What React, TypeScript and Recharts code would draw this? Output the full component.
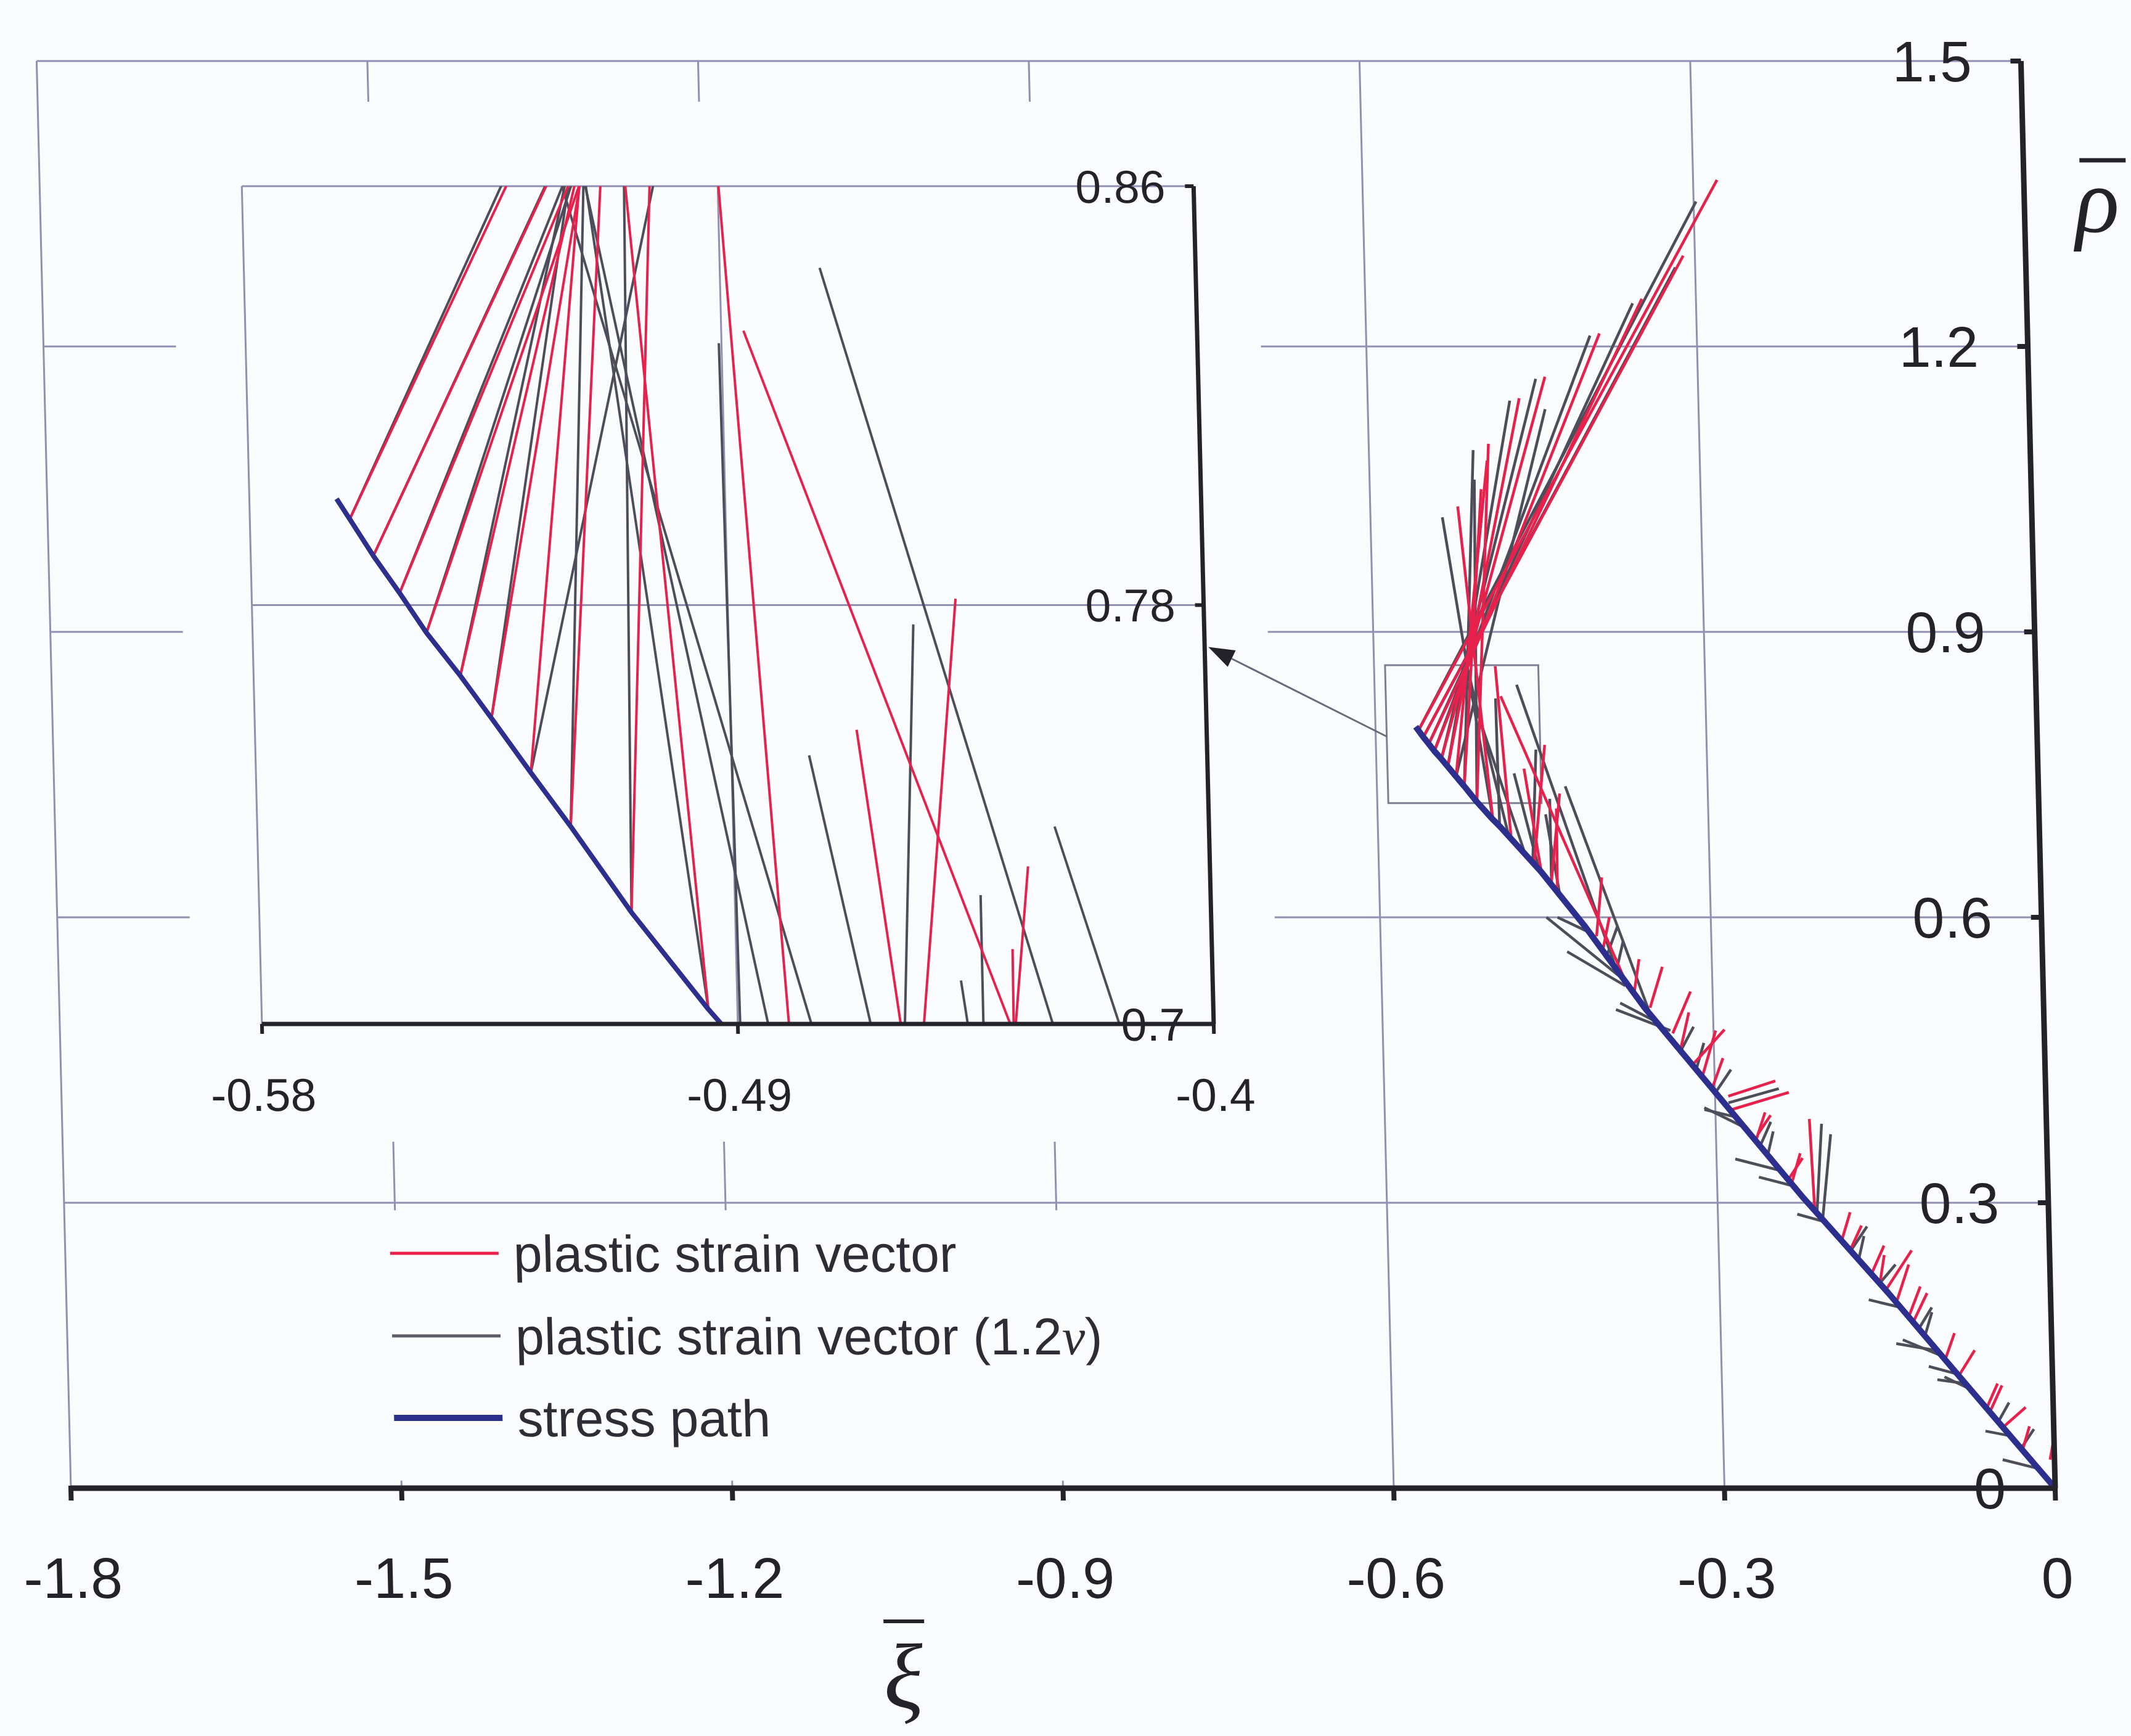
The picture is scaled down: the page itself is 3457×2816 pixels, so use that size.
import React from "react";
import { ComposedChart, Line, XAxis, YAxis, CartesianGrid, ReferenceArea } from "recharts";

const RED = "#e8214c";
const DARK = "#4e4d5a";
const BLUE = "#2c2f8e";
const GRID = "#9290b2";
const INK = "#25232a";
const PAPER = "#fbfcfe";
const SANS = "Liberation Sans, Arial, Helvetica, sans-serif";
const SERIF = "Liberation Serif, DejaVu Serif, serif";

const W = 3457;
const H = 2816;
// the scan leans a little, so the whole figure is sheared
const SKEW = 1.375;

// main plot box (px)
const MAIN_LEFT = 115;
const MAIN_RIGHT = 3334;
const MAIN_TOP = 99;
const MAIN_BOTTOM = 2414;

// inset box (px)
const INSET_LEFT = 330;
const INSET_TOP = 165;
const INSET_W = 1760;
const INSET_H = 1687;
const INSET_PLOT_LEFT = 443;
const INSET_PLOT_RIGHT = 1987;
const INSET_PLOT_TOP = 302;
const INSET_PLOT_BOTTOM = 1661;

const mainXTicks = [-1.8, -1.5, -1.2, -0.9, -0.6, -0.3, 0];
const mainYTicks = [0, 0.3, 0.6, 0.9, 1.2, 1.5];
const insetXTicks = [-0.58, -0.49, -0.4];
const insetYTicks = [0.7, 0.78, 0.86];

// stress path
const pathXi = [0, -0.072, -0.147, -0.222, -0.292, -0.362, -0.414, -0.453, -0.4895, -0.4955, -0.5096, -0.5207, -0.528, -0.5352, -0.5409, -0.5471, -0.552, -0.5568, -0.5611, -0.5635];
const pathRho = [0, 0.1, 0.205, 0.305, 0.405, 0.505, 0.59, 0.648, 0.6957, 0.7028, 0.7213, 0.7377, 0.748, 0.7584, 0.7665, 0.7747, 0.7823, 0.7894, 0.7964, 0.8003];

// plastic strain vector: [xi0, rho0, xi1, rho1]
const strainVec = [
  [-0.5611, 0.7964, -0.2783, 1.375],
  [-0.5568, 0.7894, -0.3106, 1.2954],
  [-0.552, 0.7823, -0.3491, 1.25],
  [-0.5471, 0.7747, -0.3883, 1.2137],
  [-0.5409, 0.7665, -0.4387, 1.1681],
  [-0.5352, 0.7584, -0.4625, 1.1456],
  [-0.528, 0.748, -0.493, 1.08],
  [-0.5207, 0.7377, -0.499, 1.05],
  [-0.5096, 0.7213, -0.4914, 1.0977],
  [-0.4955, 0.7028, -0.5206, 1.0319],
  [-0.4791, 0.6794, -0.4901, 0.8639],
  [-0.3784, 0.5319, -0.4858, 0.8324],
  [-0.4522, 0.644, -0.4662, 0.7562],
  [-0.4593, 0.6536, -0.4469, 0.7812],
  [-0.4442, 0.6328, -0.4344, 0.7301],
  [-0.4385, 0.6246, -0.4377, 0.7143],
  [-0.404, 0.58, -0.398, 0.642],
  [-0.3987, 0.565, -0.392, 0.6],
  [-0.357, 0.505, -0.345, 0.548],
  [-0.3712, 0.52, -0.366, 0.556],
  [-0.337, 0.478, -0.32, 0.522],
  [-0.3305, 0.46, -0.322, 0.5],
  [-0.318, 0.447, -0.29, 0.482],
  [-0.311, 0.433, -0.298, 0.481],
  [-0.3025, 0.42, -0.292, 0.452],
  [-0.288, 0.412, -0.245, 0.428],
  [-0.285, 0.398, -0.233, 0.416],
  [-0.264, 0.365, -0.255, 0.395],
  [-0.262, 0.372, -0.25, 0.392],
  [-0.235, 0.325, -0.222, 0.347],
  [-0.2325, 0.32, -0.224, 0.352],
  [-0.212, 0.292, -0.215, 0.388],
  [-0.1883, 0.26, -0.18, 0.29],
  [-0.18, 0.252, -0.17, 0.276],
  [-0.162, 0.225, -0.15, 0.255],
  [-0.155, 0.212, -0.15, 0.245],
  [-0.15, 0.207, -0.125, 0.25],
  [-0.14, 0.195, -0.128, 0.235],
  [-0.1291, 0.18, -0.118, 0.212],
  [-0.125, 0.175, -0.112, 0.205],
  [-0.097, 0.135, -0.088, 0.163],
  [-0.085, 0.118, -0.07, 0.145],
  [-0.06, 0.085, -0.05, 0.11],
  [-0.0576, 0.08, -0.046, 0.108],
  [-0.045, 0.065, -0.025, 0.085],
  [-0.0288, 0.04, -0.022, 0.065],
  [-0.004, 0.03, 0.003, 0.07],
];

// plastic strain vector (1.2 nu)
const strainVec12 = [
  [-0.5611, 0.7964, -0.2978, 1.3523],
  [-0.5568, 0.7894, -0.318, 1.283],
  [-0.552, 0.7823, -0.3575, 1.2454],
  [-0.5471, 0.7747, -0.3969, 1.2114],
  [-0.5409, 0.7665, -0.4471, 1.166],
  [-0.5352, 0.7584, -0.4711, 1.1431],
  [-0.528, 0.748, -0.4392, 1.1341],
  [-0.5207, 0.7377, -0.5054, 1.091],
  [-0.5096, 0.7213, -0.505, 1.06],
  [-0.4955, 0.7028, -0.5348, 1.0204],
  [-0.4807, 0.6815, -0.5158, 0.8639],
  [-0.4658, 0.6621, -0.5205, 0.8639],
  [-0.4895, 0.693, -0.4905, 0.83],
  [-0.387, 0.5459, -0.4711, 0.8444],
  [-0.454, 0.6466, -0.4753, 0.7513],
  [-0.4604, 0.655, -0.455, 0.7763],
  [-0.3569, 0.4978, -0.4292, 0.7377],
  [-0.4361, 0.6212, -0.4476, 0.7083],
  [-0.4437, 0.632, -0.4435, 0.7246],
  [-0.382, 0.536, -0.449, 0.6],
  [-0.379, 0.528, -0.431, 0.564],
  [-0.412, 0.585, -0.439, 0.6],
  [-0.395, 0.56, -0.385, 0.59],
  [-0.3865, 0.545, -0.38, 0.575],
  [-0.3515, 0.49, -0.384, 0.51],
  [-0.339, 0.481, -0.388, 0.503],
  [-0.33, 0.46, -0.318, 0.485],
  [-0.3165, 0.44, -0.309, 0.468],
  [-0.3, 0.415, -0.285, 0.44],
  [-0.288, 0.405, -0.242, 0.42],
  [-0.2815, 0.39, -0.31, 0.398],
  [-0.272, 0.378, -0.31, 0.4],
  [-0.26, 0.36, -0.25, 0.385],
  [-0.2535, 0.35, -0.248, 0.375],
  [-0.243, 0.334, -0.283, 0.346],
  [-0.232, 0.318, -0.262, 0.327],
  [-0.21, 0.29, -0.204, 0.383],
  [-0.205, 0.283, -0.196, 0.372],
  [-0.2033, 0.28, -0.228, 0.288],
  [-0.18, 0.25, -0.165, 0.275],
  [-0.1733, 0.24, -0.168, 0.265],
  [-0.155, 0.215, -0.14, 0.235],
  [-0.1363, 0.19, -0.165, 0.198],
  [-0.12, 0.168, -0.108, 0.19],
  [-0.1148, 0.16, -0.108, 0.185],
  [-0.106, 0.145, -0.141, 0.152],
  [-0.1, 0.139, -0.135, 0.156],
  [-0.0863, 0.12, -0.112, 0.128],
  [-0.079, 0.11, -0.1045, 0.114],
  [-0.073, 0.103, -0.098, 0.117],
  [-0.05, 0.07, -0.04, 0.09],
  [-0.0396, 0.055, -0.062, 0.06],
  [-0.03, 0.042, -0.018, 0.062],
  [-0.016, 0.021, -0.047, 0.03],
];

const stressPath = pathXi.map((x, i) => ({ x, y: pathRho[i] }));
const seg = (v: number[]) => [
  { x: v[0], y: v[1] },
  { x: v[2], y: v[3] },
];

function series(vecWidth: number, pathWidth: number) {
  const out: React.ReactNode[] = [];
  strainVec12.forEach((v, i) =>
    out.push(
      <Line key={"d" + i} data={seg(v)} dataKey="y" type="linear" stroke={DARK} strokeWidth={vecWidth}
        dot={false} activeDot={false} legendType="none" isAnimationActive={false} />
    )
  );
  strainVec.forEach((v, i) =>
    out.push(
      <Line key={"r" + i} data={seg(v)} dataKey="y" type="linear" stroke={RED} strokeWidth={vecWidth}
        dot={false} activeDot={false} legendType="none" isAnimationActive={false} />
    )
  );
  out.push(
    <Line key="path" data={stressPath} dataKey="y" type="linear" stroke={BLUE} strokeWidth={pathWidth}
      strokeLinejoin="round" dot={false} activeDot={false} legendType="none" isAnimationActive={false} />
  );
  return out;
}

function MainXTick({ x, y, payload }: any) {
  return (
    <g>
      <line x1={x} x2={x} y1={y - 4} y2={y + 20} stroke={INK} strokeWidth={8} />
      <text x={x} y={y + 178} textAnchor="middle" fontSize={93} fill={INK} fontFamily={SANS}>
        {String(payload.value)}
      </text>
    </g>
  );
}

function MainYTick({ x, y, payload }: any) {
  return (
    <g>
      <line x1={x - 17} x2={x} y1={y} y2={y} stroke={INK} strokeWidth={8} />
      <text x={x - 80} y={y} dy="0.36em" textAnchor="end" fontSize={93} fill={INK} fontFamily={SANS}>
        {String(payload.value)}
      </text>
    </g>
  );
}

function InsetXTick({ x, y, payload }: any) {
  return (
    <g>
      <line x1={x} x2={x} y1={y} y2={y + 16} stroke={INK} strokeWidth={6} />
      <text x={x} y={y + 141} textAnchor="middle" fontSize={75} fill={INK} fontFamily={SANS}>
        {String(payload.value)}
      </text>
    </g>
  );
}

function InsetYTick({ x, y, payload }: any) {
  return (
    <g>
      <line x1={x - 14} x2={x} y1={y} y2={y} stroke={INK} strokeWidth={6} />
      <text x={x - 46} y={y} dy="0.36em" textAnchor="end" fontSize={75} fill={INK} fontFamily={SANS}>
        {String(payload.value)}
      </text>
    </g>
  );
}

function MainChart() {
  return (
    <ComposedChart width={W} height={H}
      margin={{ top: MAIN_TOP, left: MAIN_LEFT, right: W - MAIN_RIGHT - 2, bottom: H - MAIN_BOTTOM - 2 }}>
      <CartesianGrid stroke={GRID} strokeWidth={3} />
      <XAxis type="number" dataKey="x" domain={[-1.8, 0]} ticks={mainXTicks} allowDataOverflow
        height={2} tickSize={0} tickMargin={0} tickLine={false} interval={0}
        axisLine={{ stroke: INK, strokeWidth: 9 }} tick={<MainXTick />} />
      <YAxis type="number" dataKey="y" orientation="right" domain={[0, 1.5]} ticks={mainYTicks} allowDataOverflow
        width={2} tickSize={0} tickMargin={0} tickLine={false} interval={0}
        axisLine={{ stroke: INK, strokeWidth: 9 }} tick={<MainYTick />} />
      <ReferenceArea x1={-1.77} x2={-0.72} y1={0.008} y2={0.292} fill={PAPER} fillOpacity={1} stroke="none" />
      <ReferenceArea x1={-0.59} x2={-0.451} y1={0.72} y2={0.865} fill="none" stroke="#7f7e92" strokeWidth={3} />
      {series(4.5, 10)}
    </ComposedChart>
  );
}

function InsetChart() {
  return (
    <ComposedChart width={INSET_W} height={INSET_H}
      margin={{
        top: INSET_PLOT_TOP - INSET_TOP,
        left: INSET_PLOT_LEFT - INSET_LEFT,
        right: INSET_LEFT + INSET_W - INSET_PLOT_RIGHT - 2,
        bottom: INSET_TOP + INSET_H - INSET_PLOT_BOTTOM - 2,
      }}>
      <CartesianGrid stroke={GRID} strokeWidth={3} />
      <XAxis type="number" dataKey="x" domain={[-0.58, -0.4]} ticks={insetXTicks} allowDataOverflow
        height={2} tickSize={0} tickMargin={0} tickLine={false} interval={0}
        axisLine={{ stroke: INK, strokeWidth: 7 }} tick={<InsetXTick />} />
      <YAxis type="number" dataKey="y" orientation="right" domain={[0.7, 0.86]} ticks={insetYTicks} allowDataOverflow
        width={2} tickSize={0} tickMargin={0} tickLine={false} interval={0}
        axisLine={{ stroke: INK, strokeWidth: 7 }} tick={<InsetYTick />} />
      {series(4, 8)}
    </ComposedChart>
  );
}

const mainPx = (x: number, y: number) => [
  MAIN_RIGHT + (x * (MAIN_RIGHT - MAIN_LEFT)) / 1.8,
  MAIN_BOTTOM - (y * (MAIN_BOTTOM - MAIN_TOP)) / 1.5,
];
const insetPx = (x: number, y: number) => [
  INSET_PLOT_LEFT + ((x + 0.58) * (INSET_PLOT_RIGHT - INSET_PLOT_LEFT)) / 0.18,
  INSET_PLOT_TOP + ((0.86 - y) * (INSET_PLOT_BOTTOM - INSET_PLOT_TOP)) / 0.16,
];

function Overlay() {
  const [sx, sy] = mainPx(-0.59, 0.79);
  const [tx0, ty] = insetPx(-0.4, 0.772);
  const tx = tx0 + 6;
  const dx = tx - sx;
  const dy = ty - sy;
  const len = Math.hypot(dx, dy);
  const ux = dx / len;
  const uy = dy / len;
  const bx = tx - ux * 42;
  const by = ty - uy * 42;
  const head = `${tx},${ty} ${bx - uy * 15},${by + ux * 15} ${bx + uy * 15},${by - ux * 15}`;

  const rows = [
    { y: 2033, color: RED, w: 5 },
    { y: 2167, color: "#5d5c68", w: 5 },
    { y: 2300, color: BLUE, w: 10 },
  ];
  return (
    <svg width={W} height={H} style={{ position: "absolute", left: 0, top: 0, overflow: "visible" }}>
      <line x1={sx} y1={sy} x2={bx} y2={by} stroke="#6c6b7c" strokeWidth={3} />
      <polygon points={head} fill={INK} />

      {rows.map((r, i) => (
        <line key={i} x1={642} x2={818} y1={r.y} y2={r.y} stroke={r.color} strokeWidth={r.w} />
      ))}
      <g fontFamily={SANS} fontSize={84} fill="#2e2d35">
        <text x={842} y={2033 + 30}>plastic strain vector</text>
        <text x={842} y={2167 + 30}>
          plastic strain vector (1.2<tspan fontFamily={SERIF} fontStyle="italic">ν</tspan>)
        </text>
        <text x={842} y={2300 + 30}>stress path</text>
      </g>

      <line x1={1428} x2={1494} y1={2630} y2={2630} stroke={INK} strokeWidth={6} />
      <text x={1458} y={2770} textAnchor="middle" fontSize={150} fontStyle="italic" fontFamily={SERIF} fill={INK}>
        ξ
      </text>
      <line x1={3425} x2={3500} y1={260} y2={260} stroke={INK} strokeWidth={7} />
      <text x={3452} y={376} textAnchor="middle" fontSize={150} fontStyle="italic" fontFamily={SERIF} fill={INK}>
        ρ
      </text>
    </svg>
  );
}

export default function App() {
  return (
    <div style={{ position: "absolute", left: 0, top: 0, width: W, height: H, overflow: "hidden", background: PAPER }}>
      <div
        style={{
          position: "absolute", left: 0, top: 0, width: W, height: H,
          transform: `skewX(${SKEW}deg)`, transformOrigin: `0px ${MAIN_BOTTOM}px`,
        }}
      >
        <div style={{ position: "absolute", left: 0, top: 0 }}>
          <MainChart />
        </div>
        <div style={{ position: "absolute", left: INSET_LEFT, top: INSET_TOP, width: INSET_W, height: INSET_H, background: PAPER }} />
        <div style={{ position: "absolute", left: INSET_LEFT, top: INSET_TOP }}>
          <InsetChart />
        </div>
        <Overlay />
      </div>
    </div>
  );
}
